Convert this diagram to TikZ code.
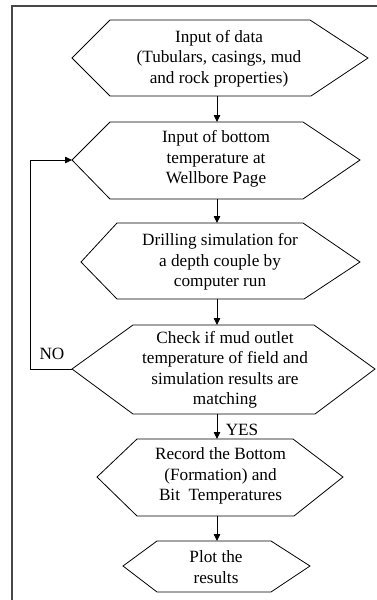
\documentclass[tikz,border=0pt]{standalone}
\usepackage{fontspec}
\setmainfont{Liberation Serif}
\usetikzlibrary{arrows.meta}
\begin{document}
\begin{tikzpicture}[x=1pt,y=-1pt,
  hexline/.style={draw=black,line width=0.8pt,line join=miter},
  frameline/.style={draw=black!72,line width=1.6pt},
  txt/.style={align=center,inner sep=0pt,font=\fontsize{17.2}{20.5}\selectfont},
  lbl/.style={inner sep=0pt,font=\fontsize{17.2}{20.5}\selectfont},
  arr/.style={draw=black,line width=0.8pt,-{Triangle[length=7pt,width=6.5pt]}}]
\useasboundingbox (0,0) rectangle (376,600);
% frame
\draw[frameline] (12,601) -- (12,6) -- (377,6);
% hexagons
\draw[hexline] (72,58) -- (110,20) -- (310,20) -- (368,58) -- (311,96) -- (110,96) -- cycle;
\draw[hexline] (72,160) -- (110,122) -- (303,122) -- (360,160) -- (303,199) -- (110,199) -- cycle;
\draw[hexline] (81,262) -- (117,223) -- (303,223) -- (360,262) -- (304,299) -- (117,299) -- cycle;
\draw[hexline] (72,369) -- (133,325) -- (314,325) -- (375,369) -- (315,414) -- (133,414) -- cycle;
\draw[hexline] (97,477) -- (137,439) -- (293,439) -- (343,477) -- (294,516) -- (137,516) -- cycle;
\draw[hexline] (123,566) -- (157,541) -- (271,541) -- (310,566) -- (271,592) -- (157,592) -- cycle;
% texts
\node[txt] (t1) at (219,58.5) {Input of data\\(Tubulars, casings, mud\\and rock properties)};
\node[txt] (t2) at (216,159) {Input of bottom\\temperature at\\Wellbore Page};
\node[txt] (t3) at (220,262) {Drilling simulation for\\a depth couple by\\computer run};
\node[txt] (t4) at (225,370) {Check if mud outlet\\temperature of field and\\simulation results are\\matching};
\node[txt] (t5) at (220.5,476) {Record the Bottom\\(Formation) and\\Bit\ \ Temperatures};
\node[txt] (t6) at (216,567) {Plot the\\results};
% connection points
\coordinate (h1b) at (217,96);
\coordinate (h2t) at (217,122);
\coordinate (h2b) at (217,199);
\coordinate (h3t) at (217,223);
\coordinate (h3b) at (217,299);
\coordinate (h4t) at (217,325);
\coordinate (h4b) at (217,414);
\coordinate (h5t) at (217,439);
\coordinate (h5b) at (217,516);
\coordinate (h6t) at (217,541);
\coordinate (h4l) at (72,369);
\coordinate (h2l) at (72,160);
\coordinate (fb) at (30,160);
% connectors
\draw[arr] (h1b) -- (h2t);
\draw[arr] (h2b) -- (h3t);
\draw[arr] (h3b) -- (h4t);
\draw[arr] (h4b) -- (h5t);
\draw[arr] (h5b) -- (h6t);
\draw[arr] (h4l) -| (fb) -- (h2l);
% labels
\node[lbl] (no) at (52,354) {NO};
\node[lbl] (yes) at (242,430) {YES};
\end{tikzpicture}
\end{document}
